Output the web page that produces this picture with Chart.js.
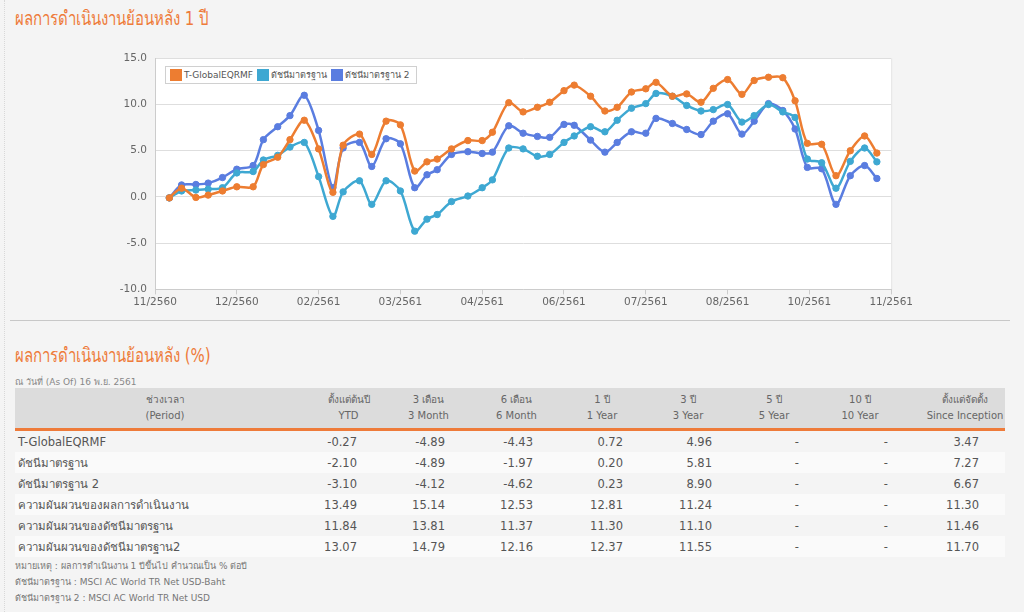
<!DOCTYPE html>
<html>
<head>
<meta charset="utf-8">
<script src="https://cdn.jsdelivr.net/npm/chart.js@4.4.0/dist/chart.umd.min.js"></script>
<style>
  html, body { margin: 0; padding: 0; }
  body { width: 1024px; height: 612px; background: #f4f4f4; position: relative; overflow: hidden;
         font-family: Tahoma, "DejaVu Sans", "Noto Sans", sans-serif; color: #555; }
  .edge { position: absolute; left: 4px; top: 0; bottom: 0; border-left: 1px dotted #d8d8d8; }
  .title { position: absolute; left: 15px; color: #ee7b3a; font-size: 15px; white-space: nowrap;
           transform: scale(1, 1.3); transform-origin: left top; }
  #wrap { position: absolute; left: 100px; top: 44px; width: 815px; height: 267px; }
  #legend { position: absolute; left: 165px; top: 66px; height: 16px; background: #fff; border: 1px solid #d0d0d0;
            display: flex; align-items: center; font-size: 9px; color: #555; padding: 0 3px; }
  #legend span.box { display: inline-block; width: 12px; height: 12px; margin: 0 2px 0 1px; }
  #legend span.lbl { margin-right: 3px; }
  .sep { position: absolute; left: 10px; width: 1000px; top: 320px; border-top: 1px solid #c8c8c8; }
  .asof { position: absolute; left: 15px; top: 375px; font-size: 9px; color: #888; }
  table { position: absolute; left: 15px; top: 388px; width: 990px; border-collapse: collapse; table-layout: fixed; }
  th { background: #dcdcdc; font-weight: normal; font-size: 10px; color: #666; height: 40px; line-height: 16px;
       border-bottom: 3px solid #ee7b3a; padding: 0; }
  td { font-family: "DejaVu Sans", Verdana, sans-serif; font-size: 11.5px; color: #555; height: 21px; padding: 0; text-align: right; }
  td.name { text-align: left; padding-left: 3px; font-family: Tahoma, "DejaVu Sans", sans-serif; }
  tr.alt td { background: #fafafa; }
  .notes { position: absolute; left: 15px; top: 558px; font-size: 9px; color: #777; line-height: 16px; }
</style>
</head>
<body>
<div class="edge"></div>
<div class="title" style="top:3px">ผลการดำเนินงานย้อนหลัง 1 ปี</div>
<div id="wrap"><canvas id="perf-chart"></canvas></div>
<div id="legend"></div>
<div class="sep"></div>
<div class="title" style="top:340px">ผลการดำเนินงานย้อนหลัง (%)</div>
<div class="asof">ณ วันที่ (As Of) 16 พ.ย. 2561</div>
<table id="perf-table"><colgroup></colgroup><thead></thead><tbody></tbody></table>
<div class="notes" id="notes"></div>
<script>
// Chart data
const SERIES_NAMES = ["T-GlobalEQRMF", "ดัชนีมาตรฐาน", "ดัชนีมาตรฐาน 2"];
const SERIES_COLORS = ["#ed7d31", "#3ea8d2", "#5a7de0"];
const TICK_LABELS = ["11/2560", "12/2560", "02/2561", "03/2561", "04/2561", "06/2561", "07/2561", "08/2561", "10/2561", "11/2561"];
// day offsets from the first axis tick
const DAYS = [7, 13, 20, 26, 33, 40, 48, 53, 60, 66, 73, 80, 87, 92, 100, 106, 113, 120, 127, 133, 138,
  145, 153, 160, 165, 173, 180, 187, 193, 200, 205, 213, 220, 226, 233, 240, 245, 253, 260, 267,
  273, 280, 287, 293, 300, 307, 313, 319, 326, 333, 340, 347, 353];
const FUND = [-0.1, 0.95, -0.05, 0.2, 0.65, 1.1, 1.1, 3.5, 4.3, 6.2, 8.3, 5.2, 0.5, 5.6, 6.8, 4.6, 8.2, 7.8, 2.8, 3.8, 4.1,
  5.2, 6.1, 6.1, 7.0, 10.2, 9.2, 9.7, 10.25, 11.5, 12.1, 10.9, 9.3, 9.7, 11.35, 11.7, 12.4, 10.9, 11.15, 10.25,
  11.75, 12.7, 11.1, 12.6, 12.95, 12.9, 10.4, 5.8, 5.7, 2.3, 5.0, 6.6, 4.75];
const BENCH = [-0.1, 0.65, 0.75, 0.85, 1.0, 2.6, 2.75, 4.0, 4.5, 5.4, 5.9, 2.2, -2.1, 0.55, 1.75, -0.8, 1.75, 0.65, -3.7, -2.4, -1.9,
  -0.5, 0.1, 1.0, 1.85, 5.3, 5.2, 4.4, 4.6, 5.9, 6.6, 7.6, 7.05, 8.3, 9.6, 10.1, 11.2, 10.9, 9.9, 9.3,
  9.45, 10.0, 8.1, 8.8, 10.0, 9.2, 8.6, 4.1, 3.7, 0.95, 3.85, 5.3, 3.8];
const BENCH2 = [-0.1, 1.3, 1.35, 1.5, 2.1, 3.0, 3.4, 6.2, 7.6, 8.8, 11.0, 7.2, 1.0, 5.3, 5.9, 3.3, 6.3, 5.75, 1.0, 2.4, 2.95,
  4.6, 4.9, 4.7, 4.85, 7.7, 6.9, 6.55, 6.45, 7.85, 7.75, 6.15, 4.85, 5.9, 7.05, 6.9, 8.5, 7.95, 7.3, 6.75,
  8.2, 9.0, 6.8, 8.2, 10.1, 9.35, 7.35, 3.2, 3.05, -0.8, 2.3, 3.4, 2.0];

// Table data
const HEADERS = [["ช่วงเวลา", "(Period)"], ["ตั้งแต่ต้นปี", "YTD"], ["3 เดือน", "3 Month"], ["6 เดือน", "6 Month"],
  ["1 ปี", "1 Year"], ["3 ปี", "3 Year"], ["5 ปี", "5 Year"], ["10 ปี", "10 Year"], ["ตั้งแต่จัดตั้ง", "Since Inception"]];
const ROW_NAMES = ["T-GlobalEQRMF", "ดัชนีมาตรฐาน", "ดัชนีมาตรฐาน 2", "ความผันผวนของผลการดำเนินงาน",
  "ความผันผวนของดัชนีมาตรฐาน", "ความผันผวนของดัชนีมาตรฐาน2"];
const ROW_VALUES = [
  ["-0.27", "-4.89", "-4.43", "0.72", "4.96", "-", "-", "3.47"],
  ["-2.10", "-4.89", "-1.97", "0.20", "5.81", "-", "-", "7.27"],
  ["-3.10", "-4.12", "-4.62", "0.23", "8.90", "-", "-", "6.67"],
  ["13.49", "15.14", "12.53", "12.81", "11.24", "-", "-", "11.30"],
  ["11.84", "13.81", "11.37", "11.30", "11.10", "-", "-", "11.46"],
  ["13.07", "14.79", "12.16", "12.37", "11.55", "-", "-", "11.70"]
];
const NOTES = ["หมายเหตุ : ผลการดำเนินงาน 1 ปีขึ้นไป คำนวณเป็น % ต่อปี",
  "ดัชนีมาตรฐาน : MSCI AC World TR Net USD-Baht",
  "ดัชนีมาตรฐาน 2 : MSCI AC World TR Net USD"];

// column layout: width, header shift, value padding-right
const COL_W = [285, 87, 85, 87, 86, 86, 86, 95, 93];
const HEAD_PAD = [[15, 0], [10, 0], [0, 2], [2, 0], [0, 0], [0, 0], [0, 0], [0, 9], [13, 0]];
const VAL_PAD = [0, 30, 27, 26, 22, 19, 18, 24, 26];

// Legend
document.getElementById("legend").innerHTML = SERIES_NAMES.map((n, i) =>
  `<span class="box" style="background:${SERIES_COLORS[i]}"></span><span class="lbl">${n}</span>`).join("");

// Table
const tbl = document.getElementById("perf-table");
tbl.querySelector("colgroup").innerHTML = COL_W.map(w => `<col style="width:${w}px">`).join("");
tbl.querySelector("thead").innerHTML = "<tr>" + HEADERS.map((h, i) =>
  `<th style="padding-left:${HEAD_PAD[i][0]}px;padding-right:${HEAD_PAD[i][1]}px">${h[0]}<br>${h[1]}</th>`).join("") + "</tr>";
tbl.querySelector("tbody").innerHTML = ROW_NAMES.map((name, r) =>
  `<tr class="${r % 2 ? "alt" : ""}"><td class="name">${name}</td>` +
  ROW_VALUES[r].map((v, c) => `<td style="padding-right:${VAL_PAD[c + 1]}px">${v}</td>`).join("") + "</tr>").join("");
document.getElementById("notes").innerHTML = NOTES.join("<br>");

// white plot area + frame
const plotBg = {
  id: "plotBg",
  beforeDraw(chart) {
    const { ctx, chartArea: a } = chart;
    ctx.save();
    ctx.fillStyle = "#fff";
    ctx.fillRect(a.left, a.top, a.right - a.left, a.bottom - a.top);
    ctx.strokeStyle = "#e4e4e4";
    ctx.lineWidth = 1;
    ctx.beginPath();
    ctx.moveTo(a.right + 0.5, a.top);
    ctx.lineTo(a.right + 0.5, a.bottom);
    ctx.stroke();
    ctx.restore();
  }
};

function makeSet(name, values, color) {
  return {
    label: name,
    data: values.map((v, i) => ({ x: DAYS[i], y: v })),
    borderColor: color,
    backgroundColor: color,
    pointBackgroundColor: color,
    pointBorderColor: color,
    borderWidth: 2.5,
    pointRadius: 3.2,
    pointBorderWidth: 1,
    tension: 0.3
  };
}

Chart.defaults.font.family = "'DejaVu Sans', Verdana, sans-serif";
Chart.defaults.font.size = 10.5;
Chart.defaults.color = "#666";

new Chart(document.getElementById("perf-chart"), {
  type: "line",
  data: {
    datasets: [
      makeSet(SERIES_NAMES[0], FUND, SERIES_COLORS[0]),
      makeSet(SERIES_NAMES[1], BENCH, SERIES_COLORS[1]),
      makeSet(SERIES_NAMES[2], BENCH2, SERIES_COLORS[2])
    ]
  },
  options: {
    responsive: true,
    maintainAspectRatio: false,
    animation: false,
    layout: { padding: { top: 8, right: 0, left: 0, bottom: 0 } },
    plugins: { legend: { display: false }, tooltip: { enabled: false } },
    scales: {
      x: {
        type: "linear",
        min: 0,
        max: 360,
        ticks: { stepSize: 40, autoSkip: false, maxRotation: 0, padding: 2,
                 callback: v => TICK_LABELS[Math.round(v / 40)] },
        grid: { drawOnChartArea: false, drawTicks: true, tickLength: 5, color: "#ccc" },
        border: { color: "#ccc" }
      },
      y: {
        min: -10,
        max: 15,
        afterFit: s => { s.width = 55; },
        ticks: { stepSize: 5, padding: 8, callback: v => v.toFixed(1) },
        grid: { color: "#dedede", drawTicks: false },
        border: { color: "#ccc" }
      }
    }
  },
  plugins: [plotBg]
});
</script>
</body>
</html>
